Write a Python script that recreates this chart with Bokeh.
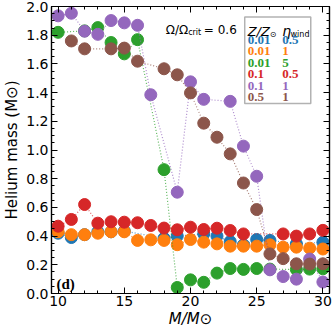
from bokeh.plotting import figure
from bokeh.models import (Range1d, SingleIntervalTicker, LinearAxis, Label,
                          BoxAnnotation, NumeralTickFormatter, CustomJSTickFormatter)
from bokeh.embed import file_html
from bokeh.resources import INLINE

# ---------------- data ----------------
mass_blue = [10, 11, 12, 13, 14, 15, 18, 19, 21, 22, 23, 24, 25, 26, 28, 30]
he_blue = [0.42, 0.39, 0.41, 0.43, 0.43, 0.435, 0.385, 0.40, 0.416, 0.40, 0.362, 0.339,
           0.376, 0.37, 0.346, 0.357]

mass_orange = [10, 11, 12, 13, 14, 15, 16, 17, 18, 19, 20, 21, 22, 23, 24, 25, 26, 27, 28, 29, 30]
he_orange = [0.43, 0.41, 0.41, 0.42, 0.43, 0.43, 0.37, 0.374, 0.37, 0.34, 0.376, 0.358,
             0.346, 0.33, 0.33, 0.33, 0.339, 0.323, 0.323, 0.316, 0.31]

mass_green = [10, 12, 13, 14, 15, 16, 18, 19, 20, 21, 22, 23, 24, 25, 26, 28, 29, 30]
he_green = [1.82, 1.83, 1.853, 1.749, 1.67, 1.769, 0.863, 0.042, 0.095, 0.078, 0.142, 0.174,
            0.168, 0.174, 0.17, 0.167, 0.17, 0.172]

mass_red = [10, 11, 12, 13, 14, 15, 16, 17, 18, 19, 20, 21, 22, 23, 24, 27, 28, 29, 30]
he_red = [0.469, 0.516, 0.62, 0.49, 0.50, 0.497, 0.493, 0.474, 0.456, 0.444, 0.462, 0.446,
          0.455, 0.439, 0.415, 0.415, 0.40, 0.415, 0.44]

mass_purple = [10, 11, 12, 13, 14, 15, 16, 17, 19, 20, 21, 23, 24, 25, 26, 27, 28, 29, 30]
he_purple = [1.935, 1.953, 1.828, 1.806, 1.902, 1.886, 1.869, 1.385, 0.706, 1.475, 1.353,
             1.339, 1.027, 0.817, 0.165, 0.118, 0.10, 0.24, 0.08]

mass_brown = [11, 12, 14, 15, 16, 18, 19, 20, 21, 22, 23, 24, 25, 26, 27, 28, 29, 30]
he_brown = [1.76, 1.705, 1.705, 1.71, 1.619, 1.566, 1.524, 1.398, 1.187, 1.089, 0.973, 0.77,
            0.585, 0.276, 0.243, 0.207, 0.205, 0.207]

z_labels = ["0.01", "0.01", "0.01", "0.1", "0.1", "0.5"]
eta_labels = ["0.5", "1", "5", "0.5", "1", "1"]
colors = ["#1f77b4", "#ff7f0e", "#2ca02c", "#d62728", "#9467bd", "#8c564b"]
series = [(mass_blue, he_blue), (mass_orange, he_orange), (mass_green, he_green),
          (mass_red, he_red), (mass_purple, he_purple), (mass_brown, he_brown)]

# ---------------- layout ----------------
W = H = 332
BL, BR, BT, BB = 47, 3, 6, 39
X0, X1, Y0, Y1 = 9.5, 30.5, 0.0, 2.0
FW = W - BL - BR
FH = H - BT - BB


def dx2x(dx):
    return X0 + dx * (X1 - X0) / FW


def dy2y(dy):
    return Y1 - dy * (Y1 - Y0) / FH


p = figure(width=W, height=H, output_backend="svg", toolbar_location=None,
           x_range=Range1d(X0, X1), y_range=Range1d(Y0, Y1),
           x_axis_type=None, y_axis_type=None,
           min_border_left=BL, min_border_right=BR, min_border_top=BT, min_border_bottom=BB)
p.outline_line_color = "black"
p.outline_line_width = 1.2
p.background_fill_color = "white"
p.border_fill_color = "white"


def make_axis(kind, show):
    if kind == "x":
        t = SingleIntervalTicker(interval=5, num_minor_ticks=5)
    else:
        t = SingleIntervalTicker(interval=0.2, num_minor_ticks=4)
    ax = LinearAxis(ticker=t)
    if show:
        if kind == "y":
            ax.formatter = NumeralTickFormatter(format="0.0")
            ax.axis_label = "Helium mass (M⊙)"
            ax.axis_label_text_font_style = "normal"
            ax.axis_label_standoff = 2
            ax.major_label_standoff = 3
        else:
            ax.axis_label = "M/M⊙"
            ax.axis_label_text_font_style = "italic"
            ax.axis_label_standoff = 1
            ax.major_label_standoff = 2
        ax.axis_label_text_font = "DejaVu Sans"
        ax.axis_label_text_font_size = "15px"
        ax.axis_label_text_color = "black"
        ax.major_label_text_font = "DejaVu Sans"
        ax.major_label_text_font_size = "14px"
        ax.major_label_text_color = "black"
    else:
        ax.formatter = CustomJSTickFormatter(code="return ''")
        ax.major_label_standoff = 0
    ax.major_tick_in = 6
    ax.major_tick_out = 0
    ax.minor_tick_in = 3
    ax.minor_tick_out = 0
    ax.axis_line_color = "black"
    ax.axis_line_width = 1.2
    ax.major_tick_line_color = "black"
    ax.minor_tick_line_color = "black"
    return ax


p.add_layout(make_axis("x", True), "below")
p.add_layout(make_axis("x", False), "above")
p.add_layout(make_axis("y", True), "left")
p.add_layout(make_axis("y", False), "right")

for (xs, ys), c in zip(series, colors):
    p.line(xs, ys, line_color=c, line_width=1.2, line_dash="1 2", line_alpha=0.75)
    p.scatter(xs, ys, size=12, fill_color=c, line_color=c)


def lab(dx, dy, text, size, font="DejaVu Sans", style="normal", color="black",
        baseline="alphabetic"):
    p.add_layout(Label(x=dx2x(dx), y=dy2y(dy), text=text, text_font=font,
                       text_font_size=f"{size}px", text_font_style=style,
                       text_color=color, text_align="left", text_baseline=baseline))


# rotation annotation
lab(116, 23.5, "Ω/Ω", 12)
lab(138.6, 26.0, "crit", 8)
lab(154.5, 23.5, "= 0.6", 12)

# panel tag
lab(5, FH - 10, "(d)", 15, font="Liberation Serif", style="bold")

# legend table
bl, br, bt, bb = 196, 263, 10.5, 97
p.add_layout(BoxAnnotation(left=dx2x(bl), right=dx2x(br), top=dy2y(bt), bottom=dy2y(bb),
                           fill_color="white", fill_alpha=1.0, line_color="black",
                           line_width=1.5))
c1, c2 = bl + 3, bl + 38
lab(c1, 25, "Z/Z", 13, style="italic")
lab(c1 + 22.5, 27.5, "⊙", 8)
lab(c2, 24.5, "η", 14, style="italic")
lab(c2 + 8.5, 27.5, "wind", 8)
for i, (zl, el) in enumerate(zip(z_labels, eta_labels)):
    dy = 33 + 11.55 * i
    lab(c1, dy, zl, 13, font="Liberation Serif", style="bold", color=colors[i], baseline="middle")
    lab(c2, dy, el, 13, font="Liberation Serif", style="bold", color=colors[i], baseline="middle")

open("out.html", "w").write(file_html(p, INLINE))
